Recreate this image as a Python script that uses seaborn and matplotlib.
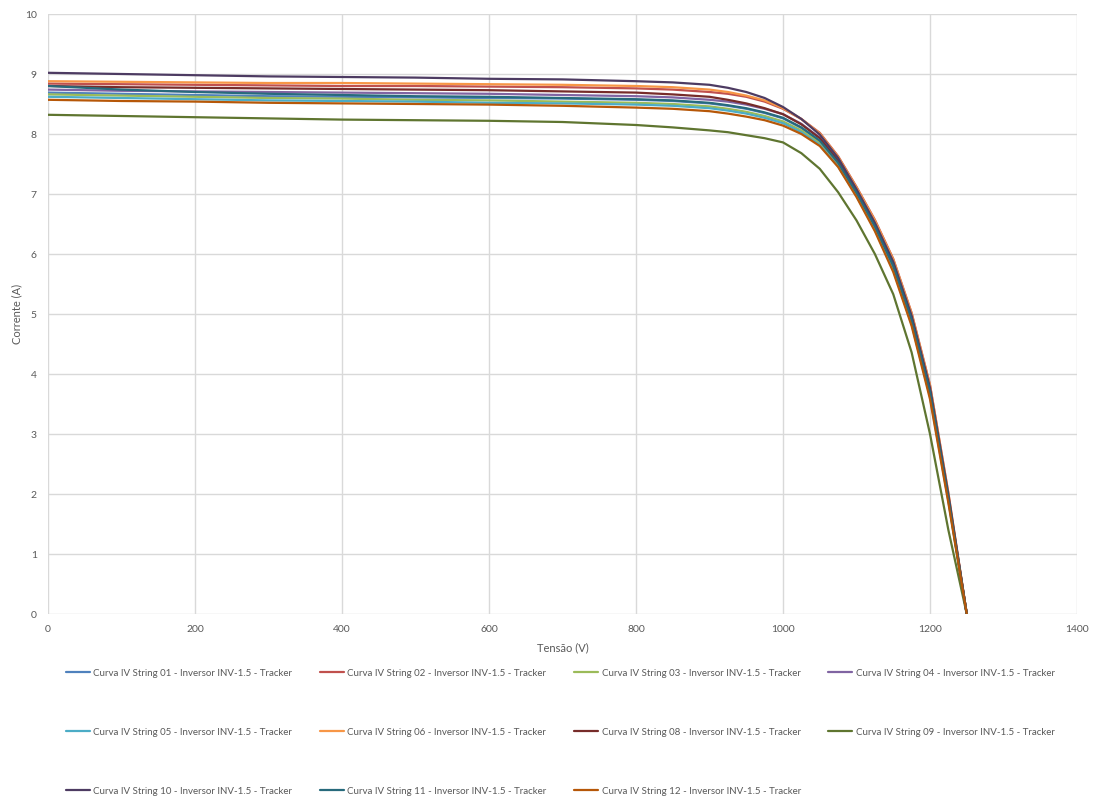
import pandas as pd
import matplotlib
matplotlib.use("Agg")
import matplotlib.pyplot as plt
import seaborn as sns

# tensões comuns (V)
tensao = [0, 100, 200, 300, 400, 500, 600, 700, 800, 850, 900, 925, 950, 975,
          1000, 1025, 1050, 1075, 1100, 1125, 1150, 1175, 1200, 1225, 1250]

s01 = [8.69, 8.67, 8.65, 8.63, 8.62, 8.61, 8.60, 8.59, 8.57, 8.55, 8.51, 8.47, 8.42, 8.35,
       8.26, 8.10, 7.88, 7.51, 7.01, 6.45, 5.79, 4.89, 3.69, 1.92, 0]
s02 = [8.84, 8.83, 8.82, 8.81, 8.80, 8.80, 8.79, 8.78, 8.76, 8.74, 8.70, 8.67, 8.62, 8.54,
       8.42, 8.25, 8.02, 7.63, 7.12, 6.57, 5.92, 5.02, 3.82, 2.02, 0]
s03 = [8.66, 8.64, 8.62, 8.60, 8.59, 8.57, 8.56, 8.54, 8.52, 8.50, 8.46, 8.42, 8.37, 8.30,
       8.21, 8.06, 7.85, 7.48, 6.99, 6.43, 5.76, 4.86, 3.66, 1.90, 0]
s04 = [8.74, 8.72, 8.71, 8.70, 8.69, 8.68, 8.67, 8.65, 8.63, 8.61, 8.57, 8.54, 8.49, 8.42,
       8.33, 8.17, 7.94, 7.56, 7.06, 6.50, 5.85, 4.95, 3.75, 1.96, 0]
s05 = [8.62, 8.60, 8.58, 8.56, 8.55, 8.54, 8.52, 8.51, 8.49, 8.47, 8.43, 8.39, 8.34, 8.27,
       8.18, 8.03, 7.82, 7.46, 6.97, 6.40, 5.73, 4.83, 3.62, 1.88, 0]
s06 = [8.88, 8.87, 8.86, 8.85, 8.85, 8.84, 8.83, 8.82, 8.80, 8.78, 8.74, 8.70, 8.64, 8.56,
       8.43, 8.25, 8.01, 7.62, 7.11, 6.56, 5.91, 5.01, 3.81, 2.01, 0]
s08 = [8.80, 8.78, 8.77, 8.76, 8.75, 8.74, 8.73, 8.71, 8.69, 8.66, 8.62, 8.57, 8.51, 8.43,
       8.33, 8.16, 7.93, 7.55, 7.05, 6.49, 5.83, 4.93, 3.73, 1.95, 0]
s09 = [8.32, 8.30, 8.28, 8.26, 8.24, 8.23, 8.22, 8.20, 8.15, 8.11, 8.06, 8.03, 7.98, 7.93,
       7.86, 7.68, 7.42, 7.03, 6.56, 6.00, 5.33, 4.36, 3.00, 1.40, 0]
s10 = [9.02, 9.00, 8.98, 8.96, 8.95, 8.94, 8.92, 8.91, 8.88, 8.86, 8.82, 8.77, 8.70, 8.60,
       8.45, 8.25, 7.99, 7.60, 7.08, 6.52, 5.87, 4.97, 3.77, 1.98, 0]
s11 = [8.80, 8.74, 8.70, 8.67, 8.65, 8.63, 8.62, 8.60, 8.58, 8.56, 8.52, 8.48, 8.43, 8.36,
       8.27, 8.11, 7.89, 7.52, 7.02, 6.46, 5.80, 4.90, 3.70, 1.93, 0]
s12 = [8.57, 8.55, 8.54, 8.52, 8.51, 8.50, 8.49, 8.47, 8.44, 8.42, 8.38, 8.34, 8.29, 8.23,
       8.14, 8.00, 7.80, 7.45, 6.95, 6.38, 5.70, 4.80, 3.58, 1.85, 0]

strings = ["01", "02", "03", "04", "05", "06", "08", "09", "10", "11", "12"]
correntes = [s01, s02, s03, s04, s05, s06, s08, s09, s10, s11, s12]
cores = ["#4F81BD", "#C0504D", "#9BBB59", "#8064A2", "#4BACC6", "#F79646",
         "#772C2A", "#5F7530", "#4D3B62", "#276A7C", "#B65708"]

nomes = ["Curva IV String " + s + " - Inversor INV-1.5 - Tracker" for s in strings]
frames = []
for nome, corr in zip(nomes, correntes):
    frames.append(pd.DataFrame({"Tensão (V)": tensao, "Corrente (A)": corr, "Curva": nome}))
df = pd.concat(frames, ignore_index=True)

sns.set_style("whitegrid")
plt.rcParams['font.family'] = ['Lato', 'DejaVu Sans']

fig = plt.figure(figsize=(10.95, 7.98), dpi=100)
ax = fig.add_axes([48/1095, 1 - 614/798, (1077-48)/1095, (614-14)/798])

sns.lineplot(data=df, x="Tensão (V)", y="Corrente (A)", hue="Curva",
             palette=dict(zip(nomes, cores)), sort=False, estimator=None,
             linewidth=1.6, ax=ax)
for ln in ax.get_lines():
    ln.set_solid_joinstyle("round")

ax.set_xlim(0, 1400)
ax.set_ylim(0, 10)
ax.set_xticks(range(0, 1401, 200))
ax.set_yticks(range(0, 11))
ax.grid(True, color="#D9D9D9", linewidth=1)
for sp in ax.spines.values():
    sp.set_visible(False)
ax.tick_params(axis="both", length=0, labelsize=7.5, labelcolor="#595959", pad=8)
ax.set_xlabel("Tensão (V)", fontsize=8, color="#595959", labelpad=6)
ax.set_ylabel("Corrente (A)", fontsize=8, color="#595959", labelpad=2)

# legenda em 4 colunas, ordenada por linha como no Excel
handles, labels = ax.get_legend_handles_labels()
ax.get_legend().remove()
ordem = [0, 4, 8, 1, 5, 9, 2, 6, 10, 3, 7]
fig.legend([handles[i] for i in ordem], [labels[i] for i in ordem],
           loc="upper left", bbox_to_anchor=(57/1095, 1 - 660/798), ncol=4,
           frameon=False, fontsize=7, handlelength=2.5, handletextpad=0.35,
           columnspacing=2.8, labelspacing=5.15, labelcolor="#595959")

fig.savefig("out.png", dpi=100)
